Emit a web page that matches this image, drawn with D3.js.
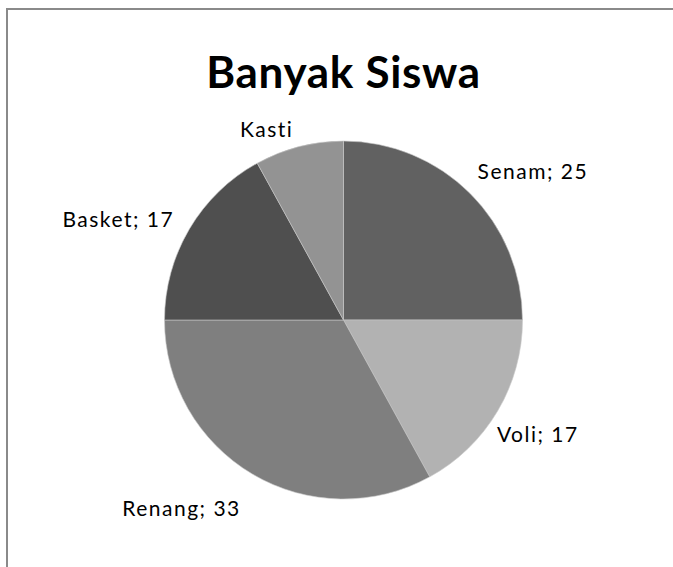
<!DOCTYPE html>
<html>
<head>
<meta charset="utf-8">
<script src="https://cdn.jsdelivr.net/npm/d3@7"></script>
<style>
  body { margin: 0; background: #fff; }
  svg { display: block; }
  text { font-family: Lato, "Open Sans", sans-serif; fill: #000; }
</style>
</head>
<body>
<script>
// data
const kategori = ["Senam", "Voli", "Renang", "Basket", "Kasti"]
const nilai = [25, 17, 33, 17, 8]
const tampilNilai = [true, true, true, true, false]   // Kasti label has no value
const warna = ["#616161", "#b2b2b2", "#7f7f7f", "#4f4f4f", "#939393"]

const W = 673, H = 567
const cx = 343.5, cy = 320, r = 179

// label nudges (degrees, gap px) to follow the reference placement
const geser = [[7, 11], [0, 6], [10, 23], [-6.6, 12], [-7.6, 6]]

const svg = d3.select("body").append("svg")
    .attr("width", W)
    .attr("height", H)

// frame (only top and left edges visible)
svg.append("rect")
    .attr("x", 7).attr("y", 9)
    .attr("width", 720).attr("height", 620)
    .attr("fill", "none")
    .attr("stroke", "#8a8a8a")
    .attr("stroke-width", 2)

svg.append("text")
    .attr("x", cx)
    .attr("y", 88)
    .attr("text-anchor", "middle")
    .style("font-size", "44px")
    .style("font-weight", "bold")
    .style("letter-spacing", "0.7px")
    .text("Banyak Siswa")

const datos = kategori.map((k, i) => ({ nama: k, nilai: nilai[i], i: i }))

const pie = d3.pie().sort(null).value(d => d.nilai)
const arc = d3.arc().innerRadius(0).outerRadius(r)

const g = svg.append("g").attr("transform", "translate(" + cx + "," + cy + ")")
const potongan = pie(datos)

g.selectAll("path")
    .data(potongan)
    .join("path")
    .attr("d", arc)
    .attr("fill", d => warna[d.data.i])
    .attr("stroke", "#c8c8c8")
    .attr("stroke-width", 0.6)

// labels
const label = g.selectAll("text.lbl")
    .data(potongan)
    .join("text")
    .attr("class", "lbl")
    .attr("text-anchor", "middle")
    .style("font-size", "21px")
    .style("letter-spacing", "1.5px")
    .text(d => tampilNilai[d.data.i] ? d.data.nama + "; " + d.data.nilai : d.data.nama)

label.each(function (d) {
    const t = d3.select(this)
    const w = this.getComputedTextLength()
    const h = 22
    const a = (d.startAngle + d.endAngle) / 2 + geser[d.data.i][0] * Math.PI / 180
    const s = Math.sin(a), c = Math.cos(a)
    const dist = r + geser[d.data.i][1] + Math.abs(w / 2 * s) + Math.abs(h / 2 * c)
    t.attr("x", dist * s).attr("y", -dist * c + 7)
})
</script>
</body>
</html>
